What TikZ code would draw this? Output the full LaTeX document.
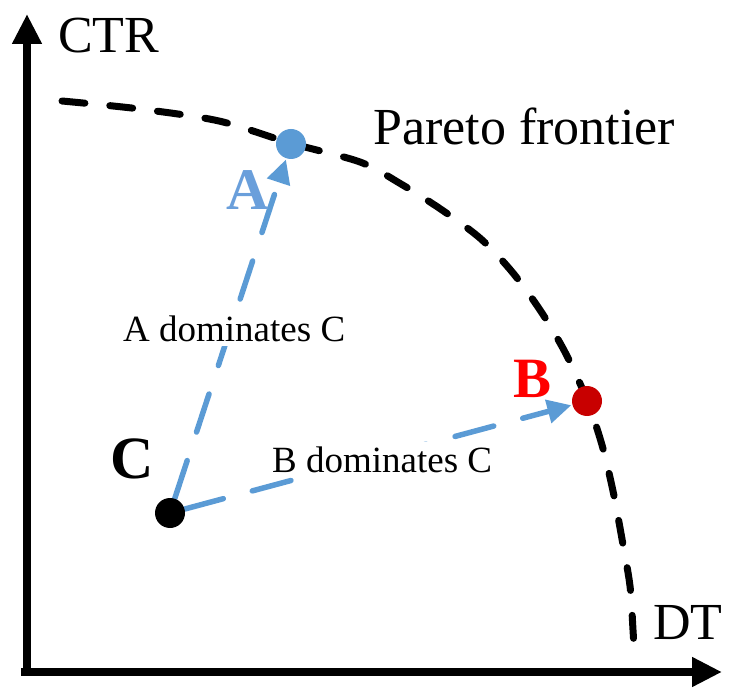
\documentclass[tikz,border=0pt]{standalone}
\usepackage{fontspec}
\setmainfont{Liberation Serif}
\usetikzlibrary{arrows.meta}
\definecolor{ablue}{HTML}{5B9BD5}
\definecolor{bred}{HTML}{C80000}
\definecolor{lblue}{HTML}{6A9FDB}
\begin{document}
\begin{tikzpicture}[x=1pt,y=-1pt,
  frontier/.style={line width=7pt, line cap=round, dash pattern=on 23pt off 25pt},
  axis/.style={line width=8pt, -{Triangle[length=30pt,width=28pt]}},
  dom/.style={draw=ablue, line width=5.5pt, line cap=round, dash pattern=on 40pt off 30pt,
    -{Triangle[length=24pt,width=23pt,fill=ablue]}, shorten >=1pt},
  pt/.style={circle, minimum size=30pt, inner sep=0pt},
  lbl/.style={anchor=base west, inner sep=0pt, font=\fontsize{52}{60}\selectfont},
  domlbl/.style={anchor=base west, fill=white, inner xsep=0pt, inner ysep=4pt, font=\fontsize{37}{44}\selectfont},
  biglbl/.style={anchor=base west, inner sep=0pt}
]
\useasboundingbox (0,0) rectangle (736,700);
% axes
\coordinate (O) at (27,672);
\coordinate (ytip) at (27,14);
\coordinate (xtip) at (722,672);
\coordinate (xstart) at (21,672);
\draw[axis] (O) -- (ytip);
\draw[axis] (xstart) -- (xtip);
% Pareto frontier
\draw[frontier] plot[smooth] coordinates {(62,101) (140,109) (219,121) (290,143) (360,162) (401,184) (442,210) (481,239) (513,273) (542,313) (566,354) (587,400) (602,445) (613,491) (622,539) (630,586) (633,630) (634,648)};
% points
\node[pt] (A) at (291,144) {};
\node[pt] (B) at (587,401) {};
\node[pt] (C) at (170,513) {};
% domination arrows
\draw[dom] (C) -- (A);
\draw[dom] (C) -- (B);
% labels
\node[domlbl] (la) at (123,342) {A dominates C};
\node[domlbl] (lb) at (272,472) {B dominates C};
\node[lbl] (ctr) at (58,53) {CTR};
\node[lbl] (dt) at (653,639) {DT};
\node[lbl] (pf) at (373,145) {Pareto frontier};
\node[biglbl, font=\bfseries\fontsize{60}{66}\selectfont] (lC) at (110,478) {C};
\node[biglbl, text=red, font=\bfseries\fontsize{57}{64}\selectfont] (lB) at (513,397) {B};
\node[biglbl, text=lblue, font=\bfseries\fontsize{59}{66}\selectfont] (lA) at (226,210) {A};
% point markers
\node[pt, fill=ablue] at (A) {};
\node[pt, fill=bred] at (B) {};
\node[pt, fill=black] at (C) {};
\end{tikzpicture}
\end{document}
